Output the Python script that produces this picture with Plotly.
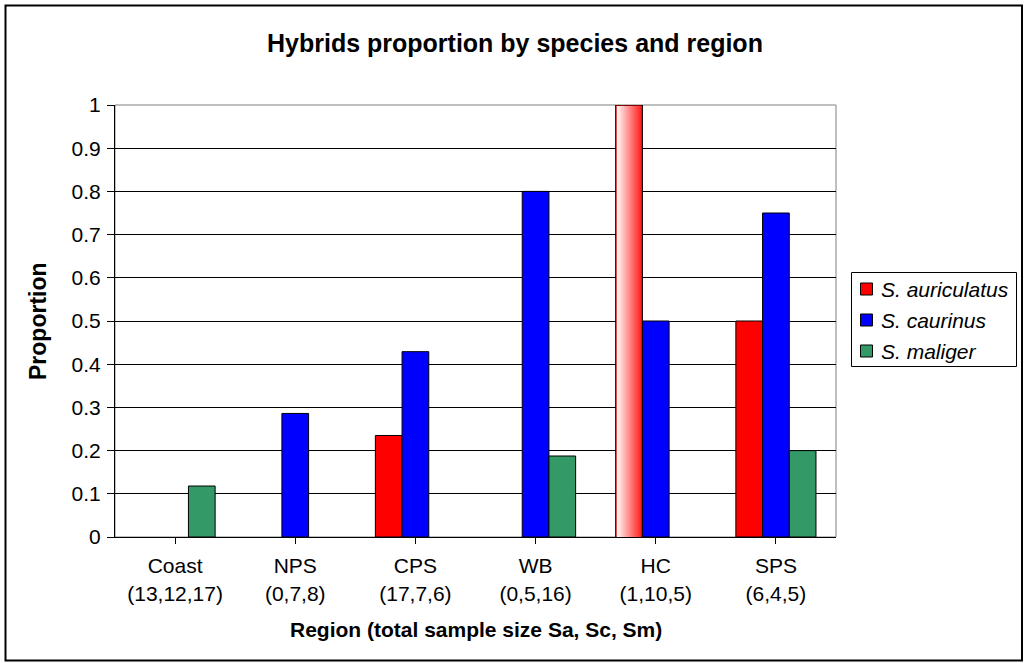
import base64
import struct
import zlib

import plotly.graph_objects as go

# Regions with total sample sizes (Sa, Sc, Sm)
regions = ["Coast", "NPS", "CPS", "WB", "HC", "SPS"]
sample_sizes = ["(13,12,17)", "(0,7,8)", "(17,7,6)", "(0,5,16)", "(1,10,5)", "(6,4,5)"]

# Proportion of hybrids per species (None = no hybrids / no sample)
auriculatus = [None, None, 0.235, None, 1.0, 0.5]
caurinus = [None, 0.286, 0.429, 0.8, 0.5, 0.75]
maliger = [0.118, None, None, 0.1875, None, 0.2]

species_names = ["S. auriculatus", "S. caurinus", "S. maliger"]
species_colors = ["#FF0000", "#0000FF", "#339966"]

y_ticks = [0, 0.1, 0.2, 0.3, 0.4, 0.5, 0.6, 0.7, 0.8, 0.9, 1]
y_tick_text = ["0", "0.1", "0.2", "0.3", "0.4", "0.5", "0.6", "0.7", "0.8", "0.9", "1"]

# Bar highlighted with a horizontal gradient fill
highlight_region = "HC"

W, H = 1024, 663
PL, PR, PT, PB = 115, 836, 105, 537  # plot area in pixels
FONT = "Liberation Sans, Arial, sans-serif"

tick_labels = [f"{r}<br>{s}" for r, s in zip(regions, sample_sizes)]

fig = go.Figure()
for name, vals, col in zip(species_names, [auriculatus, caurinus, maliger], species_colors):
    fig.add_trace(go.Bar(
        x=list(range(len(regions))),
        y=vals,
        name=name,
        marker=dict(color=col, line=dict(color="#000000", width=1)),
        hoverinfo="skip",
        showlegend=False,
    ))


def gradient_png(c0, c1, n=128):
    """Horizontal gradient PNG n x 1 as a data URI."""
    raw = b"\x00"
    for i in range(n):
        t = i / (n - 1)
        raw += bytes(int(round(a + (b - a) * t)) for a, b in zip(c0, c1))

    def chunk(tag, data):
        c = struct.pack(">I", len(data)) + tag + data
        return c + struct.pack(">I", zlib.crc32(tag + data) & 0xFFFFFFFF)

    png = b"\x89PNG\r\n\x1a\n"
    png += chunk(b"IHDR", struct.pack(">IIBBBBB", n, 1, 8, 2, 0, 0, 0))
    png += chunk(b"IDAT", zlib.compress(raw))
    png += chunk(b"IEND", b"")
    return "data:image/png;base64," + base64.b64encode(png).decode()


# Gradient overlay on the highlighted auriculatus bar, placed from the bar's value
n_cat = len(regions)
n_series = len(species_names)
bargap = 1 / 3
bar_w = (1 - bargap) / n_series
idx = regions.index(highlight_region)
val = auriculatus[idx]
left_cat = idx - (1 - bargap) / 2  # left edge of the first bar in the group
px_x = (PR - PL) / n_cat  # pixels per category
px_y = (PB - PT) / 1.0
inset_x = 1.0 / px_x
inset_y = 1.0 / px_y
fig.add_layout_image(dict(
    source=gradient_png((255, 250, 250), (255, 30, 30)),
    xref="x", yref="y",
    x=left_cat + inset_x, y=val - inset_y,
    sizex=bar_w - 2 * inset_x, sizey=val - inset_y,
    xanchor="left", yanchor="top",
    sizing="stretch", layer="above",
))


def px2paper_x(p):
    return (p - PL) / (PR - PL)


def px2paper_y(p):
    return (PB - p) / (PB - PT)


shapes = [
    # plot-area frame (grey)
    dict(type="rect", xref="paper", yref="paper", x0=0, x1=1, y0=0, y1=1,
         line=dict(color="#808080", width=1), layer="below"),
    # outer chart frame
    dict(type="rect", xref="paper", yref="paper",
         x0=px2paper_x(5.5), x1=px2paper_x(1022), y0=px2paper_y(660.5), y1=px2paper_y(5.5),
         line=dict(color="#000000", width=2)),
    # legend box
    dict(type="rect", xref="paper", yref="paper",
         x0=px2paper_x(851.5), x1=px2paper_x(1016.5), y0=px2paper_y(366.5), y1=px2paper_y(272.5),
         line=dict(color="#000000", width=1), fillcolor="white"),
]

annotations = [
    dict(text="<b>Hybrids proportion by species and region</b>", xref="paper", yref="paper",
         x=px2paper_x(515), y=px2paper_y(43), xanchor="center", yanchor="middle",
         showarrow=False, font=dict(size=25)),
    dict(text="<b>Proportion</b>", xref="paper", yref="paper",
         x=px2paper_x(38), y=0.5, xanchor="center", yanchor="middle",
         textangle=-90, showarrow=False, font=dict(size=23)),
    dict(text="<b>Region (total sample size Sa, Sc, Sm)</b>", xref="paper", yref="paper",
         x=0.5, y=px2paper_y(629), xanchor="center", yanchor="middle",
         showarrow=False, font=dict(size=21)),
]

# Legend: colour swatch plus italic species name
legend_rows = [289, 320, 351]
for name, col, ry in zip(species_names, species_colors, legend_rows):
    shapes.append(dict(type="rect", xref="paper", yref="paper",
                       x0=px2paper_x(860.5), x1=px2paper_x(872.5),
                       y0=px2paper_y(ry + 6), y1=px2paper_y(ry - 6),
                       line=dict(color="#000000", width=1), fillcolor=col))
    annotations.append(dict(text=f"<i>{name}</i>", xref="paper", yref="paper",
                            x=px2paper_x(879), y=px2paper_y(ry), xanchor="left", yanchor="middle",
                            showarrow=False, font=dict(size=21)))

fig.update_layout(
    width=W, height=H,
    margin=dict(l=PL, r=W - PR, t=PT, b=H - PB, pad=0),
    paper_bgcolor="white", plot_bgcolor="white",
    barmode="group", bargap=bargap, bargroupgap=0,
    font=dict(family=FONT, size=21, color="#000000"),
    showlegend=False,
    xaxis=dict(
        range=[-0.5, n_cat - 0.5],
        tickmode="array", tickvals=list(range(n_cat)), ticktext=tick_labels,
        tickson="boundaries", ticks="outside", ticklen=6, tickcolor="#000000",
        ticklabelstandoff=4,
        showline=True, linecolor="#000000", linewidth=1,
        showgrid=False, zeroline=False,
        tickfont=dict(size=21),
    ),
    yaxis=dict(
        range=[0, 1],
        tickmode="array", tickvals=y_ticks, ticktext=y_tick_text,
        ticks="outside", ticklen=7, tickcolor="#000000",
        ticklabelstandoff=2,
        showline=True, linecolor="#000000", linewidth=1,
        showgrid=True, gridcolor="#000000", gridwidth=1,
        zeroline=False,
        tickfont=dict(size=21),
    ),
    shapes=shapes,
    annotations=annotations,
)

fig.write_html("out.html")
